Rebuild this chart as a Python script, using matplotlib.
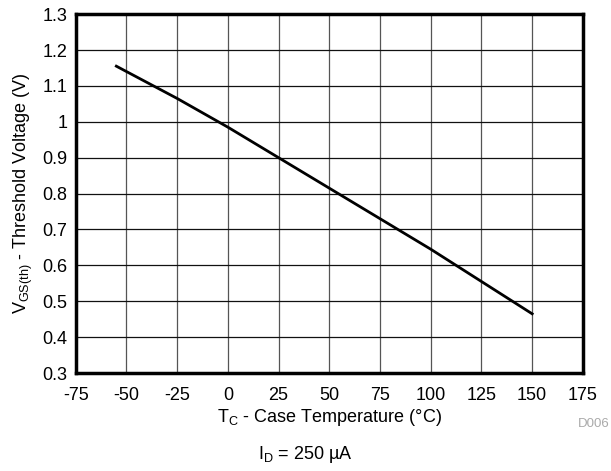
import numpy as np
import matplotlib
matplotlib.use("Agg")
from matplotlib import pyplot as plt

plt.rcParams["font.family"] = ["Liberation Sans", "DejaVu Sans"]
plt.rcParams["mathtext.default"] = "regular"

# case temperature (C) and threshold voltage (V)
temp = [-55, -25, 0, 25, 50, 75, 100, 125, 150]
vth = [1.155, 1.065, 0.985, 0.900, 0.815, 0.730, 0.645, 0.555, 0.465]

xticks = [-75, -50, -25, 0, 25, 50, 75, 100, 125, 150, 175]
yticks = [0.3, 0.4, 0.5, 0.6, 0.7, 0.8, 0.9, 1.0, 1.1, 1.2, 1.3]
yticklabels = ["0.3", "0.4", "0.5", "0.6", "0.7", "0.8", "0.9", "1", "1.1", "1.2", "1.3"]

fig = plt.figure(figsize=(6.11, 4.71), dpi=100)
ax = fig.add_axes([0.124, 0.208, 0.830, 0.762])

ax.plot(temp, vth, color="black", lw=2, zorder=3)

ax.set_xlim(-75, 175)
ax.set_ylim(0.3, 1.3)
ax.set_xticks(xticks)
ax.set_xticklabels([str(t) for t in xticks])
ax.set_yticks(yticks)
ax.set_yticklabels(yticklabels)
ax.tick_params(length=0, labelsize=13)
ax.tick_params(axis="x", pad=10)
ax.tick_params(axis="y", pad=6)
ax.grid(True, axis="y", color="#111111", lw=0.9)
ax.grid(True, axis="x", color="#555555", lw=0.9)
for s in ax.spines.values():
    s.set_linewidth(2.5)

ax.set_xlabel("T$_C$ - Case Temperature (°C)", fontsize=13, labelpad=2)
ax.set_ylabel("V$_{GS(th)}$ - Threshold Voltage (V)", fontsize=13, labelpad=5)

fig.text(0.998, 0.10, "D006", color="#aaaaaa", fontsize=9.5, ha="right", va="center")
fig.text(0.5, 0.034, "I$_D$ = 250 µA", fontsize=13, ha="center", va="center")

plt.savefig("out.png", dpi=100)
